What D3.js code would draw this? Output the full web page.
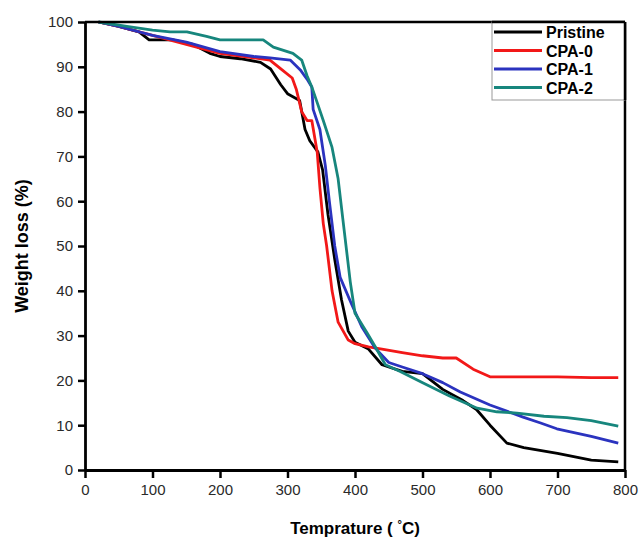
<!DOCTYPE html>
<html>
<head>
<meta charset="utf-8">
<script src="https://cdn.jsdelivr.net/npm/d3@7"></script>
<style>
    body { margin: 0; background: #fff; }
    text { font-family: "Liberation Sans", Arial, sans-serif; }
</style>
</head>
<body>
<div id="chart"></div>
<script>
// series names / colours, in legend order
var seriesNames = ["Pristine", "CPA-0", "CPA-1", "CPA-2"];
var seriesColors = ["#000000", "#f21818", "#2b33bf", "#17867d"];

// tick values of the two axes
var xTicks = [0, 100, 200, 300, 400, 500, 600, 700, 800];
var yTicks = [0, 10, 20, 30, 40, 50, 60, 70, 80, 90, 100];

// [temperature (C), weight (%)]
var pristine = [[20,100],[50,99],[80,97.8],[95,96],[130,96],[160,95],[185,93],[200,92.3],[230,91.8],
    [260,91],[275,89.5],[290,86],[300,84],[312,83],[318,82.5],[326,76],[333,73.5],[345,71],[352,67],
    [360,57],[370,47],[380,38],[390,31],[400,28.5],[420,27],[440,23.5],[470,22],[500,21.5],[530,18],
    [560,15.5],[580,13.5],[600,10],[625,6],[650,5],[700,3.7],[750,2.2],[790,1.8]];
var cpa0 = [[20,100],[50,99],[100,97],[150,95],[200,93],[250,92],[274,91.5],[292,89.3],[307,87.5],
    [313,85],[321,80],[329,78],[336,78],[344,71],[348,63],[353,55],[358,50],[366,40],[375,33],[390,29],
    [400,28.2],[420,27.5],[440,27],[470,26.2],[500,25.5],[530,25],[550,25],[575,22.5],[600,20.8],
    [650,20.8],[700,20.8],[750,20.6],[790,20.6]];
var cpa1 = [[20,100],[50,99],[100,97],[150,95.5],[200,93.4],[250,92.3],[274,92],[304,91.5],[319,89.3],
    [330,87],[336,85.5],[338,80.5],[348,76],[356,68],[362,60],[370,50],[378,43],[395,37],[410,32],
    [430,27.2],[450,24],[470,23],[500,21.5],[530,19.5],[556,17.4],[600,14.5],[649,11.8],[675,10.5],
    [699,9.2],[750,7.5],[790,6]];
var cpa2 = [[20,100],[62,99],[100,98.2],[126,97.8],[151,97.8],[180,96.8],[200,96],[264,96],[279,94.4],
    [308,93],[321,91.5],[329,88],[336,85.5],[344,82],[353,78],[366,72],[375,65],[382,56],[393,42],
    [400,35],[418,30.6],[430,27.5],[445,23.5],[467,22],[501,19.4],[540,16.5],[581,13.8],[610,13],
    [640,12.7],[680,12],[714,11.7],[750,11],[790,9.8]];

var seriesData = [pristine, cpa0, cpa1, cpa2];

var width = 640;
var height = 540;
var plot = {left: 85, right: 625, top: 22, bottom: 470};

var svg = d3.select("#chart").append("svg")
    .attr("width", width)
    .attr("height", height);

var x = d3.scaleLinear().domain([0, 800]).range([plot.left, plot.right]);
var y = d3.scaleLinear().domain([0, 100]).range([plot.bottom, plot.top]);

// curves
var line = d3.line()
    .x(function (d) { return x(d[0]); })
    .y(function (d) { return y(d[1]); });

svg.selectAll(".curve")
    .data(seriesData)
    .enter().append("path")
    .attr("class", "curve")
    .attr("d", line)
    .attr("fill", "none")
    .attr("stroke", function (d, i) { return seriesColors[i]; })
    .attr("stroke-width", 2.8)
    .attr("stroke-linejoin", "round");

// axes
var xAxis = svg.append("g")
    .attr("transform", "translate(0," + plot.bottom + ")")
    .call(d3.axisBottom(x).tickValues(xTicks).tickSize(8).tickPadding(6).tickSizeOuter(0));
var yAxis = svg.append("g")
    .attr("transform", "translate(" + plot.left + ",0)")
    .call(d3.axisLeft(y).tickValues(yTicks).tickSize(7).tickPadding(5).tickSizeOuter(0));

[xAxis, yAxis].forEach(function (a) {
    a.select(".domain").attr("stroke", "#000").attr("stroke-width", 2.8);
    a.selectAll(".tick line").attr("stroke", "#000").attr("stroke-width", 2.5);
    a.selectAll(".tick text")
        .attr("font-size", 15)
        .attr("fill", "#2a2a2a")
        .style("font-family", "'Liberation Sans', Arial, sans-serif");
});

// top and right frame lines
svg.append("line")
    .attr("x1", plot.left).attr("x2", plot.right)
    .attr("y1", plot.top).attr("y2", plot.top)
    .attr("stroke", "#000").attr("stroke-width", 2.5);
svg.append("line")
    .attr("x1", plot.right).attr("x2", plot.right)
    .attr("y1", plot.top).attr("y2", plot.bottom)
    .attr("stroke", "#000").attr("stroke-width", 2.5);

// axis titles
svg.append("text")
    .attr("x", 355).attr("y", 534)
    .attr("text-anchor", "middle")
    .attr("font-size", 17).attr("font-weight", "bold")
    .text("Temprature ( ")
    .append("tspan").attr("font-size", 11).attr("dy", -6).text("°")
    .select(function () { return this.parentNode; })
    .append("tspan").attr("dy", 6).text("C)");

svg.append("text")
    .attr("transform", "translate(28," + ((plot.top + plot.bottom) / 2) + ") rotate(-90)")
    .attr("text-anchor", "middle")
    .attr("font-size", 18).attr("font-weight", "bold")
    .text("Weight loss (%)");

// legend
var legendTop = plot.top;
var legendH = 78;
var legend = svg.append("g");
legend.append("rect")
    .attr("x", 492).attr("y", legendTop)
    .attr("width", plot.right - 492).attr("height", legendH)
    .attr("fill", "#fff").attr("stroke", "#999").attr("stroke-width", 1);
svg.append("line")
    .attr("x1", 492).attr("x2", plot.right)
    .attr("y1", legendTop).attr("y2", legendTop)
    .attr("stroke", "#000").attr("stroke-width", 2.5);
svg.append("line")
    .attr("x1", plot.right).attr("x2", plot.right)
    .attr("y1", legendTop).attr("y2", legendTop + legendH)
    .attr("stroke", "#000").attr("stroke-width", 2.5);

var rows = legend.selectAll(".row")
    .data(seriesNames)
    .enter().append("g")
    .attr("class", "row")
    .attr("transform", function (d, i) { return "translate(0," + (32 + i * 18.5) + ")"; });
rows.append("line")
    .attr("x1", 494).attr("x2", 542)
    .attr("stroke", function (d, i) { return seriesColors[i]; })
    .attr("stroke-width", 3);
rows.append("text")
    .attr("x", 546).attr("y", 6)
    .attr("font-size", 16).attr("font-weight", "bold")
    .text(function (d) { return d; });
</script>
</body>
</html>
